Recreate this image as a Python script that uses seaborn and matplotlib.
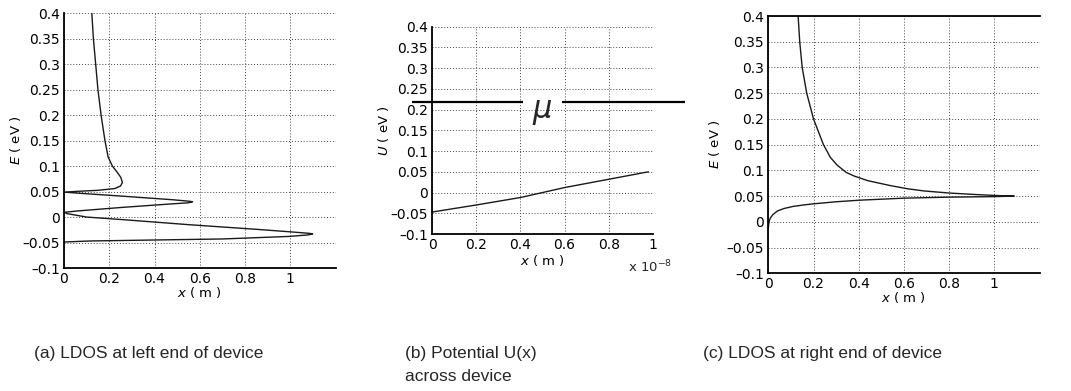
import numpy as np
import pandas as pd
import matplotlib
matplotlib.use("Agg")
import matplotlib.pyplot as plt
import seaborn as sns

# ---------------- data ----------------
# (a) LDOS at left end of device: path of (LDOS, E)
ldos_left = [0.123, 0.130, 0.140, 0.150, 0.164, 0.181, 0.195, 0.214, 0.235, 0.251,
             0.258, 0.250, 0.225, 0.150, 0.060, 0.000, 0.060, 0.258, 0.480, 0.555,
             0.568, 0.550, 0.480, 0.258, 0.060, 0.005, 0.010, 0.100, 0.258, 0.553,
             0.848, 1.000, 1.085, 1.099, 1.080, 0.996, 0.700, 0.406, 0.111, 0.000]
E_left = [0.400, 0.350, 0.300, 0.250, 0.200, 0.150, 0.118, 0.100, 0.088, 0.078,
          0.068, 0.061, 0.056, 0.0525, 0.0505, 0.049, 0.047, 0.041, 0.034, 0.031,
          0.030, 0.028, 0.026, 0.019, 0.012, 0.0095, 0.007, 0.000, -0.005, -0.015,
          -0.024, -0.029, -0.032, -0.033, -0.035, -0.038, -0.043, -0.045, -0.047, -0.049]

# (b) potential across device
x_dev = [0.0, 0.2e-8, 0.4e-8, 0.5e-8, 0.6e-8, 0.8e-8, 0.98e-8]
U_dev = [-0.047, -0.030, -0.012, 0.000, 0.012, 0.032, 0.050]
mu_level = 0.218
mu_left_seg = [-0.09e-8, 0.41e-8]
mu_right_seg = [0.59e-8, 1.145e-8]

# (c) LDOS at right end of device: path of (LDOS, E)
ldos_right = [0.000, 0.002, 0.005, 0.010, 0.020, 0.040, 0.070, 0.110, 0.160, 0.200,
              0.300, 0.400, 0.500, 0.600, 0.800, 1.000, 1.088,
              1.020, 0.920, 0.800, 0.690, 0.620, 0.545, 0.440, 0.380, 0.345, 0.305,
              0.275, 0.244, 0.222, 0.200, 0.170, 0.150, 0.139, 0.132]
E_right = [-0.012, -0.004, 0.003, 0.008, 0.014, 0.021, 0.026, 0.030, 0.033, 0.035,
           0.039, 0.042, 0.044, 0.046, 0.048, 0.049, 0.050,
           0.051, 0.053, 0.056, 0.060, 0.064, 0.070, 0.080, 0.089, 0.096, 0.110,
           0.125, 0.150, 0.175, 0.200, 0.250, 0.300, 0.350, 0.400]

yticks = [-0.1, -0.05, 0, 0.05, 0.1, 0.15, 0.2, 0.25, 0.3, 0.35, 0.4]
ytick_labels = ["\u20130.1", "\u20130.05", "0", "0.05", "0.1", "0.15", "0.2",
                "0.25", "0.3", "0.35", "0.4"]
xticks = [0, 0.2, 0.4, 0.6, 0.8, 1]
xtick_labels = ["0", "0.2", "0.4", "0.6", "0.8", "1"]

captions = ["(a) LDOS at left end of device",
            "(b) Potential U(x)\nacross device",
            "(c) LDOS at right end of device"]

# ---------------- style ----------------
sns.set_theme(style="white")
plt.rcParams["font.family"] = ["DejaVu Sans"]
plt.rcParams["mathtext.fontset"] = "dejavusans"

fig = plt.figure(figsize=(10.71, 3.91), dpi=100)
W, H = 1071.0, 391.0

def make_ax(left, top, right, bottom):
    return fig.add_axes([left / W, 1 - bottom / H, (right - left) / W, (bottom - top) / H])

ax_a = make_ax(64.0, 13.3, 335.5, 268.0)
ax_b = make_ax(432.2, 26.7, 652.8, 234.0)
ax_c = make_ax(768.3, 16.0, 1039.5, 273.3)

line_kw = dict(color="#1a1a1a", linewidth=1.0, sort=False, estimator=None, legend=False)

df_a = pd.DataFrame({"x": ldos_left, "E": E_left})
sns.lineplot(data=df_a, x="x", y="E", ax=ax_a, **line_kw)

df_b = pd.DataFrame({"x": x_dev, "U": U_dev})
sns.lineplot(data=df_b, x="x", y="U", ax=ax_b, **line_kw)

df_c = pd.DataFrame({"x": ldos_right, "E": E_right})
sns.lineplot(data=df_c, x="x", y="E", ax=ax_c, **line_kw)

# mu level line in panel b (extends beyond axes)
for seg in (mu_left_seg, mu_right_seg):
    ax_b.plot(seg, [mu_level, mu_level], color="black", linewidth=1.6, clip_on=False,
              solid_capstyle="butt")
ax_b.text(0.5e-8, mu_level - 0.026, r"$\mu$", fontsize=22, ha="center", va="center")

tick_fs = 10
lab_fs = 9.5
label_pos = {  # (ylabel x, xlabel y) in axes coordinates
    "a": (-0.18, -0.098),
    "b": (-0.223, -0.13),
    "c": (-0.197, -0.094),
}
for key, ax, xmax, ylab in (("a", ax_a, 1.2, r"$E$ ( eV )"),
                            ("b", ax_b, 1e-8, r"$U$ ( eV )"),
                            ("c", ax_c, 1.2, r"$E$ ( eV )")):
    ax.set_ylim(-0.1, 0.4)
    ax.set_xlim(0, xmax)
    ax.set_yticks(yticks)
    ax.set_yticklabels(ytick_labels, fontsize=tick_fs)
    scale = 1e-8 if ax is ax_b else 1.0
    ax.set_xticks([t * scale for t in xticks])
    ax.set_xticklabels(xtick_labels, fontsize=tick_fs)
    ax.grid(True, linestyle=(0, (1, 2)), color="#444444", linewidth=0.7)
    ax.tick_params(direction="in", length=0, pad=3, colors="black")
    for s in ("top", "right"):
        ax.spines[s].set_visible(False)
    for s in ("left", "bottom"):
        ax.spines[s].set_color("black")
        ax.spines[s].set_linewidth(1.3)
    ax.set_xlabel(r"$x$ ( m )", fontsize=lab_fs, color="black")
    ax.set_ylabel(ylab, fontsize=lab_fs, color="black")
    ax.yaxis.set_label_coords(label_pos[key][0], 0.5)
    ax.xaxis.set_label_coords(0.5, label_pos[key][1])
    ax.xaxis.label.set_va("center")
    ax.yaxis.label.set_va("center")
    ax.set_facecolor("white")

ax_c.spines["top"].set_visible(True)
ax_c.spines["top"].set_color("black")
ax_c.spines["top"].set_linewidth(1.3)

ax_b.text(1.087, -0.183, r"x 10$^{-8}$", transform=ax_b.transAxes, ha="right",
          va="baseline", fontsize=lab_fs)

cap_font = dict(fontsize=12.5, family=["Liberation Sans", "DejaVu Sans"], va="top")
fig.text(34 / W, 1 - 346 / H, captions[0], ha="left", **cap_font)
fig.text(405 / W, 1 - 346 / H, captions[1], ha="left", linespacing=1.7, **cap_font)
fig.text(703 / W, 1 - 346 / H, captions[2], ha="left", **cap_font)

fig.savefig("out.png", dpi=100, facecolor="white")
